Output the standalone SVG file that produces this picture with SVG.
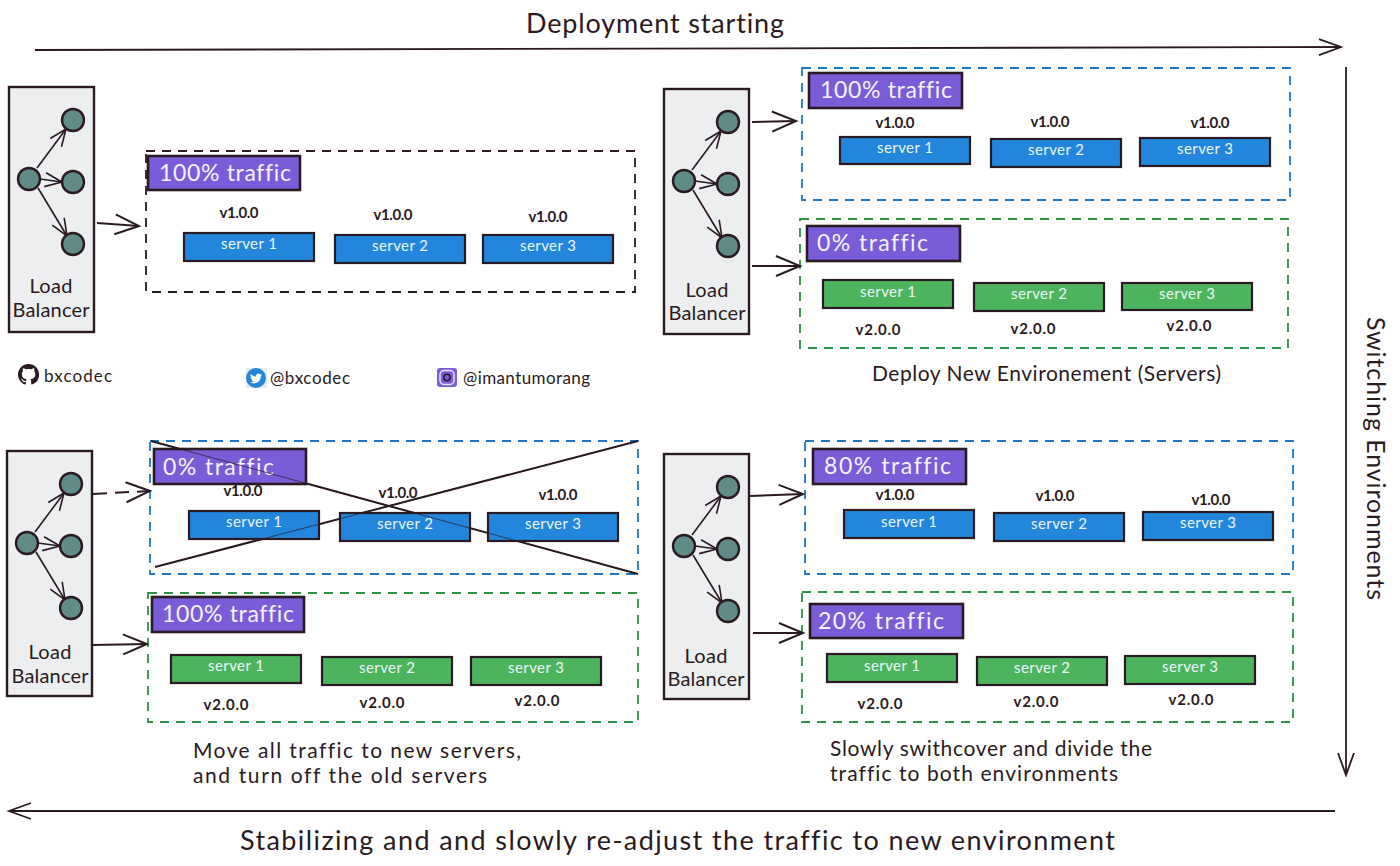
<svg xmlns="http://www.w3.org/2000/svg" xmlns:xlink="http://www.w3.org/1999/xlink" width="1400" height="866" viewBox="0 0 1400 866">
<style>
text{font-family:"Lato","Noto Sans",sans-serif;fill:#2a1a22;font-variant-ligatures:none}
.h{font-size:27px}
.c{font-size:21px}
.lb{font-size:20px;text-anchor:middle}
.h2{font-size:17px}
.t{font-size:23px;fill:#f4f2fb}
.s{font-size:15px;fill:#eef6fb;text-anchor:middle}
.v{font-size:15px;text-anchor:middle;font-weight:700}
.box{fill:#eceef0;stroke:#2a1a22;stroke-width:2.4}
.dot{fill:#5f8c86;stroke:#2a1a22;stroke-width:2.4}
.il{fill:none;stroke:#2a1a22;stroke-width:1.6;marker-end:url(#ah)}
.cl{fill:none;stroke:#2a1a22;stroke-width:2;marker-end:url(#am)}
.dash{stroke-dasharray:14 8}
.long{fill:none;stroke:#2a1a22;stroke-width:1.8;marker-end:url(#al)}
.env{fill:none;stroke-width:1.8;stroke-dasharray:9 7}
.ek{stroke:#2a1a22}
.eb{stroke:#1e76c4}
.eg{stroke:#2e9146}
.p{fill:#7a5cd8;stroke:#2a1a22;stroke-width:2.6}
.sb{fill:#2287dc;stroke:#2a1a22;stroke-width:2.2}
.sg{fill:#4db45e;stroke:#2a1a22;stroke-width:2.2}
.x{fill:none;stroke:#2a1a22;stroke-width:2}
.xt{fill:none;stroke:#2a1a22;stroke-width:.7}
</style>
<defs>
<marker id="ah" markerUnits="userSpaceOnUse" markerWidth="24" markerHeight="24" refX="20" refY="12" orient="auto" overflow="visible">
<path d="M3 5L20 12L3 19" fill="none" stroke="#2a1a22" stroke-width="1.6"/>
</marker>
<marker id="am" markerUnits="userSpaceOnUse" markerWidth="40" markerHeight="40" refX="34" refY="20" orient="auto" overflow="visible">
<path d="M10 10L34 20L10 30" fill="none" stroke="#2a1a22" stroke-width="2"/>
</marker>
<marker id="al" markerUnits="userSpaceOnUse" markerWidth="40" markerHeight="40" refX="34" refY="20" orient="auto" overflow="visible">
<path d="M12 12L34 20L12 28" fill="none" stroke="#2a1a22" stroke-width="1.8"/>
</marker>
<g id="lbshape">
<rect class="box" x="0" y="0" width="85" height="245"/>
<line class="il" x1="28" y1="81" x2="57" y2="42"/>
<line class="il" x1="31" y1="92" x2="53" y2="95"/>
<line class="il" x1="29" y1="101" x2="58" y2="149"/>
<circle class="dot" cx="20" cy="92" r="11"/>
<circle class="dot" cx="64" cy="33" r="11"/>
<circle class="dot" cx="64" cy="95" r="11"/>
<circle class="dot" cx="64" cy="157" r="11"/>
</g>
</defs>
<rect width="1400" height="866" fill="#fff"/>

<g id="title-top"><text class="h" x="526" y="33" textLength="258">Deployment starting</text></g>
<g id="title-right"><text class="h" transform="translate(1367 317) rotate(90)" textLength="283" style="font-size:25px">Switching Environments</text></g>
<g id="title-bottom"><text class="h" x="240" y="850" textLength="875">Stabilizing and and slowly re-adjust the traffic to new environment</text></g>

<g id="lb-1"><use xlink:href="#lbshape" href="#lbshape" transform="translate(9 87)"/><text class="lb" x="51" y="293" textLength="43">Load</text><text class="lb" x="51" y="317" textLength="77">Balancer</text></g>
<g id="lb-2"><use xlink:href="#lbshape" href="#lbshape" transform="translate(664 89)"/><text class="lb" x="707" y="297" textLength="43">Load</text><text class="lb" x="707" y="320" textLength="77">Balancer</text></g>
<g id="lb-3"><use xlink:href="#lbshape" href="#lbshape" transform="translate(7 451)"/><text class="lb" x="50" y="659" textLength="43">Load</text><text class="lb" x="50" y="683" textLength="77">Balancer</text></g>
<g id="lb-4"><use xlink:href="#lbshape" href="#lbshape" transform="translate(664 454)"/><text class="lb" x="706" y="663" textLength="43">Load</text><text class="lb" x="706" y="686" textLength="77">Balancer</text></g>

<g id="env-a">
<rect class="env ek" x="146" y="151" width="489" height="141"/>
<rect class="p" x="148" y="156" width="152" height="34"/><text class="t" x="159" y="181" textLength="132">100% traffic</text>
<text class="v" x="239" y="218" textLength="39">v1.0.0</text><text class="v" x="393" y="220" textLength="39">v1.0.0</text><text class="v" x="548" y="222" textLength="39">v1.0.0</text>
<rect class="sb" x="184" y="233" width="130" height="28"/><text class="s" x="249" y="249" textLength="56">server 1</text>
<rect class="sb" x="335" y="235" width="130" height="28"/><text class="s" x="400" y="251" textLength="56">server 2</text>
<rect class="sb" x="483" y="235" width="130" height="28"/><text class="s" x="548" y="251" textLength="56">server 3</text>
</g>

<g id="env-b">
<rect class="env eb" x="802" y="68" width="488" height="132"/>
<rect class="p" x="809" y="73" width="153" height="35"/><text class="t" x="820" y="98" textLength="132">100% traffic</text>
<text class="v" x="895" y="128" textLength="39">v1.0.0</text><text class="v" x="1050" y="127" textLength="39">v1.0.0</text><text class="v" x="1210" y="128" textLength="39">v1.0.0</text>
<rect class="sb" x="840" y="137" width="130" height="27"/><text class="s" x="905" y="153" textLength="56">server 1</text>
<rect class="sb" x="991" y="139" width="130" height="28"/><text class="s" x="1056" y="155" textLength="56">server 2</text>
<rect class="sb" x="1140" y="138" width="130" height="28"/><text class="s" x="1205" y="154" textLength="56">server 3</text>
</g>

<g id="env-c">
<rect class="env eg" x="800" y="219" width="488" height="129"/>
<rect class="p" x="807" y="226" width="153" height="35"/><text class="t" x="817" y="251" textLength="111">0% traffic</text>
<rect class="sg" x="823" y="280" width="130" height="28"/><text class="s" x="888" y="297" textLength="56">server 1</text>
<rect class="sg" x="974" y="283" width="130" height="28"/><text class="s" x="1039" y="299" textLength="56">server 2</text>
<rect class="sg" x="1122" y="283" width="130" height="27"/><text class="s" x="1187" y="299" textLength="56">server 3</text>
<text class="v" x="878" y="335" textLength="45">v2.0.0</text><text class="v" x="1033" y="334" textLength="45">v2.0.0</text><text class="v" x="1189" y="331" textLength="45">v2.0.0</text>
</g>

<g id="env-d">
<rect class="env eb" x="150" y="441" width="488" height="133"/>
<line class="x" x1="151" y1="441" x2="638" y2="574"/>
<line class="x" x1="155" y1="567" x2="638" y2="441"/>
<rect class="p" x="154" y="449" width="152" height="35"/><text class="t" x="163" y="475" textLength="111">0% traffic</text>
<text class="v" x="243" y="496" textLength="39">v1.0.0</text><text class="v" x="398" y="498" textLength="39">v1.0.0</text><text class="v" x="558" y="500" textLength="39">v1.0.0</text>
<rect class="sb" x="189" y="511" width="130" height="28"/><text class="s" x="254" y="527" textLength="56">server 1</text>
<rect class="sb" x="340" y="513" width="130" height="28"/><text class="s" x="405" y="529" textLength="56">server 2</text>
<rect class="sb" x="488" y="513" width="130" height="28"/><text class="s" x="553" y="529" textLength="56">server 3</text>
<line class="xt" x1="151" y1="441" x2="638" y2="574"/>
<line class="xt" x1="155" y1="567" x2="638" y2="441"/>
</g>

<g id="env-e">
<rect class="env eg" x="148" y="593" width="490" height="129"/>
<rect class="p" x="152" y="597" width="152" height="35"/><text class="t" x="162" y="622" textLength="132">100% traffic</text>
<rect class="sg" x="171" y="655" width="130" height="28"/><text class="s" x="236" y="671" textLength="56">server 1</text>
<rect class="sg" x="322" y="657" width="130" height="28"/><text class="s" x="387" y="673" textLength="56">server 2</text>
<rect class="sg" x="471" y="657" width="130" height="28"/><text class="s" x="536" y="673" textLength="56">server 3</text>
<text class="v" x="226" y="710" textLength="45">v2.0.0</text><text class="v" x="382" y="708" textLength="45">v2.0.0</text><text class="v" x="537" y="706" textLength="45">v2.0.0</text>
</g>

<g id="env-f">
<rect class="env eb" x="805" y="441" width="488" height="133"/>
<rect class="p" x="813" y="449" width="153" height="35"/><text class="t" x="824" y="474" textLength="127">80% traffic</text>
<text class="v" x="895" y="500" textLength="39">v1.0.0</text><text class="v" x="1055" y="501" textLength="39">v1.0.0</text><text class="v" x="1211" y="505" textLength="39">v1.0.0</text>
<rect class="sb" x="844" y="510" width="130" height="28"/><text class="s" x="909" y="527" textLength="56">server 1</text>
<rect class="sb" x="994" y="513" width="130" height="28"/><text class="s" x="1059" y="529" textLength="56">server 2</text>
<rect class="sb" x="1143" y="512" width="130" height="28"/><text class="s" x="1208" y="528" textLength="56">server 3</text>
</g>

<g id="env-g">
<rect class="env eg" x="802" y="592" width="491" height="130"/>
<rect class="p" x="810" y="604" width="153" height="34"/><text class="t" x="818" y="629" textLength="126">20% traffic</text>
<rect class="sg" x="827" y="654" width="130" height="28"/><text class="s" x="892" y="671" textLength="56">server 1</text>
<rect class="sg" x="977" y="657" width="130" height="28"/><text class="s" x="1042" y="673" textLength="56">server 2</text>
<rect class="sg" x="1125" y="656" width="130" height="28"/><text class="s" x="1190" y="672" textLength="56">server 3</text>
<text class="v" x="880" y="709" textLength="45">v2.0.0</text><text class="v" x="1036" y="707" textLength="45">v2.0.0</text><text class="v" x="1191" y="705" textLength="45">v2.0.0</text>
</g>

<g id="captions">
<text class="c" x="872" y="381" textLength="349">Deploy New Environement (Servers)</text>
<text class="c" x="193" y="758" textLength="328">Move all traffic to new servers,</text>
<text class="c" x="193" y="783" textLength="294">and turn off the old servers</text>
<text class="c" x="830" y="756" textLength="322">Slowly swithcover and divide the</text>
<text class="c" x="830" y="781" textLength="288">traffic to both environments</text>
</g>

<g id="social-github">
<path transform="translate(18 364) scale(1.32)" fill="#2a1a22" d="M8 0C3.58 0 0 3.58 0 8c0 3.54 2.29 6.53 5.47 7.59.4.07.55-.17.55-.38 0-.19-.01-.82-.01-1.49-2.01.37-2.53-.49-2.69-.94-.09-.23-.48-.94-.82-1.13-.28-.15-.68-.52-.01-.53.63-.01 1.08.58 1.23.82.72 1.21 1.87.87 2.33.66.07-.52.28-.87.51-1.07-1.78-.2-3.64-.89-3.64-3.95 0-.87.31-1.59.82-2.15-.08-.2-.36-1.02.08-2.12 0 0 .67-.21 2.2.82.64-.18 1.32-.27 2-.27.68 0 1.36.09 2 .27 1.53-1.04 2.2-.82 2.2-.82.44 1.1.16 1.92.08 2.12.51.56.82 1.27.82 2.15 0 3.07-1.87 3.75-3.65 3.95.29.25.54.73.54 1.48 0 1.07-.01 1.93-.01 2.2 0 .21.15.46.55.38A8.013 8.013 0 0016 8c0-4.42-3.58-8-8-8z"/>
<text class="h2" x="44" y="382" textLength="68">bxcodec</text>
</g>
<g id="social-twitter">
<rect x="246" y="368" width="21" height="20" fill="#e6e9ee"/>
<circle cx="256" cy="378" r="10" fill="#2287dc"/>
<path transform="translate(250 372.500) scale(0.5)" fill="#fff" d="M23.95 4.57a10 10 0 01-2.82.77 4.96 4.96 0 002.16-2.72c-.95.55-2 .96-3.13 1.2a4.92 4.92 0 00-8.38 4.48C7.69 8.1 4.07 6.13 1.64 3.16a4.82 4.82 0 00-.67 2.48c0 1.71.87 3.21 2.19 4.1a4.9 4.9 0 01-2.23-.62v.06a4.92 4.92 0 003.95 4.83 5 5 0 01-2.21.08 4.94 4.94 0 004.6 3.42A9.87 9.87 0 010 19.54a14 14 0 007.56 2.21c9.05 0 14-7.5 14-13.98 0-.21 0-.42-.02-.63a9.94 9.94 0 002.46-2.55z"/>
<text class="h2" x="270" y="384" textLength="80">@bxcodec</text>
</g>
<g id="social-instagram">
<rect x="437" y="368" width="20" height="19" rx="3" fill="#7a5cd8"/>
<rect x="440" y="370.500" width="14" height="14" rx="4" fill="none" stroke="#e8e4f8" stroke-width="1.500"/>
<circle cx="447" cy="377.500" r="3.200" fill="none" stroke="#2a1a22" stroke-width="1.500"/>
<text class="h2" x="463" y="384" textLength="127">@imantumorang</text>
</g>

<g id="connectors">
<line class="long" x1="35" y1="50" x2="1341" y2="47"/>
<line class="long" x1="1346" y1="67" x2="1346" y2="775"/>
<line class="long" x1="1335" y1="811" x2="9" y2="811"/>
<line class="cl" x1="97" y1="223" x2="139" y2="226"/>
<line class="cl" x1="752" y1="122" x2="796" y2="121"/>
<line class="cl" x1="752" y1="266" x2="800" y2="266"/>
<line class="cl dash" x1="93" y1="494" x2="150" y2="491"/>
<line class="cl" x1="92" y1="645" x2="147" y2="644"/>
<line class="cl" x1="750" y1="496" x2="803" y2="494"/>
<line class="cl" x1="753" y1="633" x2="803" y2="633"/>
</g>
</svg>
